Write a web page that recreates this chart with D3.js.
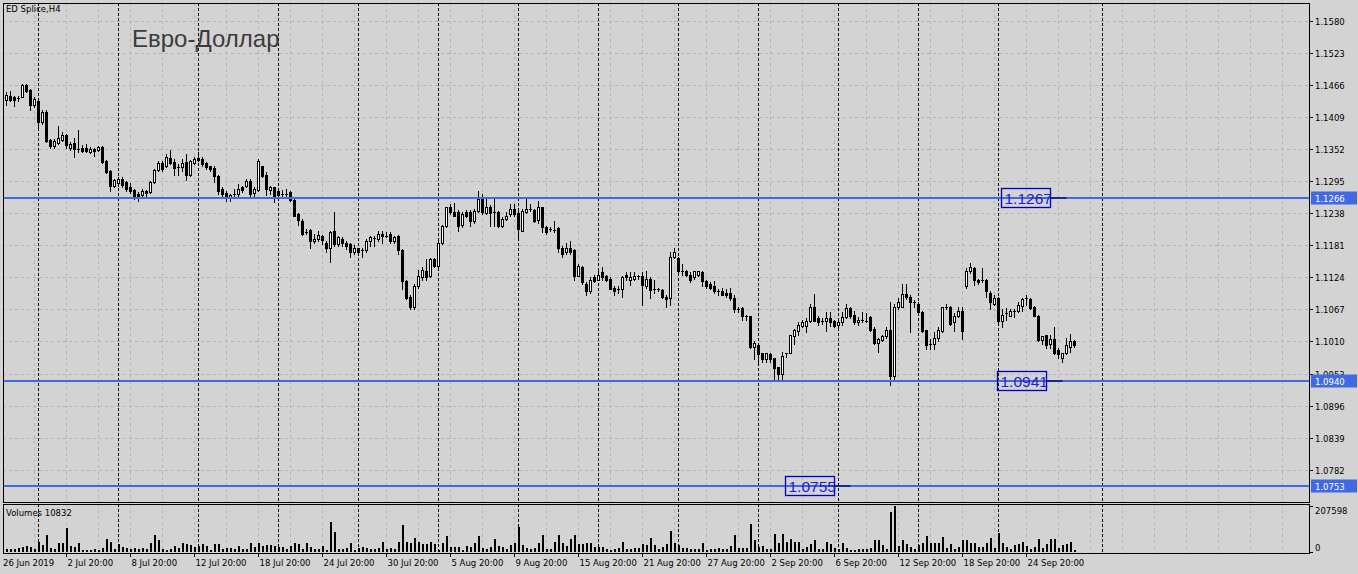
<!DOCTYPE html>
<html><head><meta charset="utf-8">
<script src="https://cdnjs.cloudflare.com/ajax/libs/d3/7.8.5/d3.min.js"></script>
<style>html,body{margin:0;padding:0;background:#d3d3d3;overflow:hidden}svg{display:block}</style>
</head><body><svg id="c" width="1358" height="574"></svg>
<script>
// ---- DATA ----
const symbolTitle = "ED Splice,H4";
const chartTitle = "Евро-Доллар";
const volumeTitle = "Volumes 10832";
// H4 bars: [open, high, low, close]
const ohlc = [
[1.1461,1.1464,1.1439,1.1441],[1.1439,1.1454,1.1430,1.1448],[1.1446,1.1455,1.1438,1.1439],[1.1445,1.1446,1.1429,1.1439],
[1.1443,1.1446,1.1438,1.1441],[1.1445,1.1468,1.1445,1.1466],[1.1466,1.1468,1.1454,1.1455],[1.1457,1.1459,1.1422,1.1430],
[1.1430,1.1445,1.1427,1.1441],[1.1438,1.1441,1.1388,1.1400],[1.1400,1.1422,1.1397,1.1418],[1.1418,1.1422,1.1364,1.1366],
[1.1368,1.1370,1.1354,1.1357],[1.1357,1.1370,1.1354,1.1366],[1.1363,1.1393,1.1361,1.1372],[1.1368,1.1382,1.1366,1.1377],
[1.1377,1.1379,1.1354,1.1359],[1.1354,1.1364,1.1350,1.1361],[1.1363,1.1372,1.1338,1.1352],[1.1352,1.1386,1.1347,1.1351],
[1.1354,1.1359,1.1347,1.1348],[1.1354,1.1361,1.1347,1.1348],[1.1347,1.1356,1.1345,1.1352],[1.1352,1.1354,1.1340,1.1348],
[1.1350,1.1357,1.1348,1.1356],[1.1356,1.1357,1.1327,1.1329],[1.1331,1.1332,1.1309,1.1311],[1.1313,1.1315,1.1277,1.1286],
[1.1286,1.1299,1.1284,1.1297],[1.1291,1.1302,1.1286,1.1299],[1.1299,1.1302,1.1284,1.1289],[1.1293,1.1295,1.1277,1.1281],
[1.1284,1.1291,1.1274,1.1277],[1.1279,1.1281,1.1263,1.1266],[1.1272,1.1275,1.1259,1.1266],[1.1270,1.1281,1.1266,1.1277],
[1.1277,1.1279,1.1268,1.1274],[1.1275,1.1295,1.1274,1.1293],[1.1293,1.1316,1.1291,1.1315],[1.1315,1.1331,1.1313,1.1327],
[1.1327,1.1331,1.1313,1.1316],[1.1322,1.1343,1.1320,1.1338],[1.1336,1.1350,1.1325,1.1327],[1.1329,1.1334,1.1307,1.1318],
[1.1320,1.1325,1.1307,1.1319],[1.1320,1.1334,1.1313,1.1327],[1.1329,1.1343,1.1297,1.1306],[1.1306,1.1332,1.1304,1.1331],
[1.1327,1.1338,1.1325,1.1334],[1.1336,1.1347,1.1331,1.1332],[1.1334,1.1338,1.1322,1.1325],[1.1327,1.1329,1.1316,1.1320],
[1.1322,1.1323,1.1313,1.1316],[1.1318,1.1322,1.1293,1.1304],[1.1304,1.1307,1.1272,1.1277],[1.1281,1.1284,1.1266,1.1272],
[1.1274,1.1277,1.1259,1.1268],[1.1265,1.1272,1.1259,1.1270],[1.1272,1.1281,1.1266,1.1271],[1.1272,1.1290,1.1268,1.1282],
[1.1284,1.1286,1.1275,1.1279],[1.1286,1.1299,1.1284,1.1295],[1.1295,1.1299,1.1268,1.1272],[1.1274,1.1284,1.1268,1.1281],
[1.1279,1.1334,1.1277,1.1331],[1.1322,1.1323,1.1302,1.1304],[1.1306,1.1311,1.1270,1.1281],[1.1279,1.1286,1.1272,1.1284],
[1.1284,1.1285,1.1258,1.1268],[1.1277,1.1281,1.1266,1.1270],[1.1272,1.1279,1.1266,1.1271],[1.1271,1.1281,1.1268,1.1272],
[1.1275,1.1277,1.1259,1.1261],[1.1261,1.1263,1.1233,1.1234],[1.1236,1.1238,1.1218,1.1226],[1.1224,1.1227,1.1199,1.1202],
[1.1204,1.1210,1.1201,1.1203],[1.1208,1.1210,1.1177,1.1188],[1.1188,1.1201,1.1186,1.1193],[1.1192,1.1206,1.1188,1.1199],
[1.1197,1.1199,1.1183,1.1190],[1.1186,1.1188,1.1170,1.1177],[1.1177,1.1206,1.1151,1.1204],[1.1206,1.1240,1.1179,1.1183],
[1.1183,1.1197,1.1179,1.1195],[1.1192,1.1195,1.1179,1.1185],[1.1185,1.1188,1.1174,1.1179],[1.1183,1.1186,1.1160,1.1170],
[1.1170,1.1181,1.1165,1.1177],[1.1176,1.1177,1.1165,1.1170],[1.1172,1.1177,1.1160,1.1171],[1.1172,1.1192,1.1169,1.1188],
[1.1188,1.1197,1.1179,1.1195],[1.1194,1.1197,1.1179,1.1193],[1.1193,1.1206,1.1188,1.1201],[1.1201,1.1206,1.1186,1.1197],
[1.1197,1.1204,1.1195,1.1196],[1.1201,1.1204,1.1186,1.1188],[1.1188,1.1197,1.1186,1.1195],[1.1197,1.1199,1.1165,1.1172],
[1.1172,1.1174,1.1103,1.1117],[1.1117,1.1120,1.1085,1.1088],[1.1090,1.1092,1.1067,1.1071],[1.1071,1.1112,1.1067,1.1108],
[1.1108,1.1138,1.1106,1.1126],[1.1124,1.1142,1.1120,1.1138],[1.1136,1.1156,1.1120,1.1124],[1.1126,1.1158,1.1124,1.1156],
[1.1156,1.1158,1.1142,1.1144],[1.1144,1.1188,1.1142,1.1186],[1.1186,1.1218,1.1183,1.1215],[1.1215,1.1250,1.1213,1.1249],
[1.1250,1.1254,1.1236,1.1240],[1.1240,1.1256,1.1233,1.1234],[1.1240,1.1243,1.1206,1.1215],[1.1218,1.1240,1.1213,1.1236],
[1.1240,1.1243,1.1231,1.1234],[1.1240,1.1243,1.1215,1.1224],[1.1224,1.1245,1.1220,1.1242],[1.1242,1.1277,1.1240,1.1263],
[1.1263,1.1272,1.1236,1.1240],[1.1238,1.1263,1.1236,1.1249],[1.1249,1.1252,1.1215,1.1238],[1.1240,1.1266,1.1215,1.1239],
[1.1240,1.1242,1.1214,1.1216],[1.1215,1.1231,1.1213,1.1227],[1.1227,1.1240,1.1226,1.1234],[1.1236,1.1254,1.1234,1.1245],
[1.1245,1.1254,1.1234,1.1236],[1.1238,1.1242,1.1193,1.1210],[1.1206,1.1245,1.1206,1.1242],[1.1240,1.1266,1.1238,1.1245],
[1.1245,1.1254,1.1242,1.1244],[1.1243,1.1245,1.1222,1.1224],[1.1226,1.1259,1.1220,1.1249],[1.1249,1.1250,1.1204,1.1213],
[1.1213,1.1215,1.1202,1.1204],[1.1210,1.1213,1.1206,1.1209],[1.1208,1.1224,1.1204,1.1207],[1.1211,1.1213,1.1169,1.1176],
[1.1177,1.1179,1.1161,1.1165],[1.1169,1.1186,1.1165,1.1177],[1.1177,1.1188,1.1165,1.1170],[1.1172,1.1174,1.1120,1.1126],
[1.1127,1.1147,1.1126,1.1144],[1.1142,1.1144,1.1113,1.1115],[1.1113,1.1115,1.1093,1.1099],[1.1099,1.1124,1.1097,1.1120],
[1.1124,1.1129,1.1115,1.1117],[1.1120,1.1135,1.1119,1.1129],[1.1133,1.1142,1.1120,1.1124],[1.1126,1.1129,1.1117,1.1119],
[1.1122,1.1124,1.1103,1.1104],[1.1106,1.1108,1.1093,1.1099],[1.1104,1.1108,1.1097,1.1103],[1.1104,1.1126,1.1090,1.1124],
[1.1129,1.1133,1.1120,1.1124],[1.1119,1.1133,1.1110,1.1124],[1.1122,1.1133,1.1120,1.1127],[1.1127,1.1129,1.1122,1.1126],
[1.1127,1.1133,1.1075,1.1110],[1.1108,1.1135,1.1106,1.1122],[1.1122,1.1124,1.1087,1.1101],[1.1104,1.1120,1.1097,1.1101],
[1.1103,1.1106,1.1099,1.1102],[1.1101,1.1103,1.1088,1.1090],[1.1090,1.1092,1.1072,1.1085],[1.1087,1.1169,1.1075,1.1161],
[1.1160,1.1176,1.1158,1.1169],[1.1158,1.1160,1.1129,1.1135],[1.1136,1.1147,1.1129,1.1133],[1.1135,1.1138,1.1127,1.1129],
[1.1129,1.1133,1.1115,1.1119],[1.1124,1.1136,1.1122,1.1135],[1.1129,1.1136,1.1127,1.1135],[1.1133,1.1135,1.1108,1.1117],
[1.1117,1.1120,1.1106,1.1108],[1.1112,1.1115,1.1103,1.1106],[1.1108,1.1117,1.1097,1.1099],[1.1099,1.1104,1.1092,1.1098],
[1.1099,1.1106,1.1092,1.1093],[1.1097,1.1103,1.1090,1.1092],[1.1097,1.1106,1.1083,1.1087],[1.1087,1.1093,1.1062,1.1067],
[1.1067,1.1071,1.1062,1.1066],[1.1069,1.1071,1.1049,1.1055],[1.1055,1.1057,1.1049,1.1054],[1.1055,1.1056,1.0999,1.1001],
[1.1001,1.1010,1.0978,1.1008],[1.1003,1.1005,1.0973,1.0987],[1.0989,1.0990,1.0973,1.0978],[1.0978,1.0990,1.0973,1.0989],
[1.0987,1.0989,1.0974,1.0978],[1.0980,1.0981,1.0944,1.0962],[1.0964,1.0965,1.0944,1.0953],[1.0953,1.0992,1.0944,1.0985],
[1.0989,1.0990,1.0983,1.0988],[1.0990,1.1022,1.0989,1.1021],[1.1019,1.1033,1.1005,1.1030],[1.1028,1.1044,1.1021,1.1039],
[1.1037,1.1049,1.1035,1.1044],[1.1037,1.1051,1.1026,1.1047],[1.1046,1.1077,1.1044,1.1071],[1.1071,1.1095,1.1046,1.1047],
[1.1051,1.1055,1.1039,1.1044],[1.1046,1.1051,1.1041,1.1045],[1.1046,1.1062,1.1028,1.1051],[1.1051,1.1062,1.1037,1.1044],
[1.1046,1.1049,1.1035,1.1037],[1.1039,1.1051,1.1035,1.1044],[1.1044,1.1062,1.1039,1.1053],[1.1053,1.1077,1.1051,1.1069],
[1.1069,1.1071,1.1051,1.1055],[1.1058,1.1064,1.1041,1.1044],[1.1044,1.1053,1.1039,1.1049],[1.1049,1.1062,1.1044,1.1048],
[1.1047,1.1060,1.1044,1.1046],[1.1053,1.1055,1.1028,1.1031],[1.1033,1.1035,1.1005,1.1008],[1.1008,1.1017,1.0992,1.1015],
[1.1012,1.1021,1.1010,1.1019],[1.1019,1.1035,1.1017,1.1031],[1.1031,1.1080,1.0932,1.0948],[1.0948,1.1077,1.0942,1.1071],
[1.1071,1.1088,1.1067,1.1080],[1.1072,1.1113,1.1071,1.1095],[1.1095,1.1112,1.1085,1.1090],[1.1090,1.1092,1.1026,1.1080],
[1.1080,1.1083,1.1071,1.1079],[1.1077,1.1080,1.1058,1.1062],[1.1062,1.1064,1.1026,1.1028],[1.1030,1.1031,1.0996,1.1003],
[1.1006,1.1015,1.0996,1.1005],[1.1005,1.1026,1.0996,1.1017],[1.1017,1.1035,1.1010,1.1030],[1.1028,1.1072,1.1027,1.1071],
[1.1072,1.1077,1.1067,1.1071],[1.1072,1.1073,1.1039,1.1041],[1.1044,1.1060,1.1028,1.1056],[1.1056,1.1071,1.1053,1.1064],
[1.1064,1.1072,1.1014,1.1028],[1.1108,1.1140,1.1106,1.1135],[1.1135,1.1149,1.1131,1.1142],[1.1140,1.1142,1.1110,1.1119],
[1.1120,1.1122,1.1113,1.1115],[1.1117,1.1140,1.1115,1.1120],[1.1120,1.1122,1.1090,1.1099],[1.1097,1.1099,1.1067,1.1080],
[1.1077,1.1092,1.1075,1.1088],[1.1088,1.1090,1.1044,1.1046],[1.1047,1.1067,1.1035,1.1058],[1.1060,1.1069,1.1049,1.1059],
[1.1056,1.1067,1.1055,1.1064],[1.1064,1.1067,1.1053,1.1063],[1.1064,1.1080,1.1062,1.1075],[1.1074,1.1088,1.1064,1.1085],
[1.1087,1.1093,1.1075,1.1086],[1.1085,1.1087,1.1067,1.1069],[1.1072,1.1074,1.1055,1.1056],[1.1056,1.1058,1.1010,1.1012],
[1.1012,1.1019,1.1006,1.1019],[1.1021,1.1022,1.0998,1.1003],[1.1005,1.1022,1.0999,1.1014],[1.1015,1.1035,1.0987,1.0990],
[1.0994,1.0999,1.0981,1.0987],[1.0981,1.0990,1.0973,1.0989],[1.0989,1.1017,1.0987,1.1003],[1.1001,1.1024,1.0992,1.1010],
[1.1010,1.1012,1.1001,1.1003]
];
const volumes = [
12584,15730,12584,12584,18876,23595,28314,23595,15730,44044,31460,75504,18876,15730,39325,39325,110110,28314,23595,39325,
7865,7865,7865,12584,7865,18876,58201,47190,12584,34606,23595,18876,12584,18876,15730,18876,15730,39325,78650,55055,
12584,7865,15730,28314,18876,39325,34606,31460,23595,28314,34606,28314,7865,34606,34606,15730,18876,18876,15730,28314,
12584,15730,39325,23595,39325,28314,31460,31460,28314,23595,23595,12584,28314,42471,34606,15730,39325,23595,15730,15730,
28314,7865,133705,91234,12584,12584,18876,39325,7865,18876,23595,18876,15730,15730,18876,44044,12584,18876,15730,44044,
122694,44044,39325,62920,44044,34606,34606,44044,34606,7865,39325,70785,23595,23595,23595,7865,28314,23595,39325,70785,
18876,15730,23595,59774,28314,23595,15730,31460,39325,113256,31460,18876,15730,18876,39325,75504,15730,12584,47190,75504,
39325,28314,58201,78650,34606,34606,39325,39325,23595,23595,23595,12584,7865,15730,18876,44044,15730,12584,18876,18876,
34606,31460,62920,31460,15730,23595,34606,94380,39325,31460,18876,18876,12584,12584,12584,39325,7865,12584,15730,18876,
12584,15730,28314,78650,18876,18876,18876,125840,55055,23595,28314,12584,15730,81796,39325,81796,44044,59774,44044,44044,
15730,23595,34606,55055,12584,15730,47190,34606,18876,12584,39325,18876,7865,7865,12584,12584,15730,18876,55055,55055,
31460,15730,180895,207598,28314,55055,34606,23595,15730,31460,39325,70785,39325,39325,39325,66066,18876,34606,15730,23595,
55055,55055,39325,39325,23595,23595,39325,62920,18876,86515,39325,23595,15730,31460,34606,47190,28314,15730,23595,59774,
18876,34606,59774,59774,18876,31460,34606,47190,10832
];
const priceTicks = [1.1580,1.1523,1.1466,1.1409,1.1352,1.1295,1.1238,1.1181,1.1124,1.1067,1.1010,1.0953,1.0896,1.0839,1.0782];
const volumeTicks = [207598, 0];
const timeLabels = [
  {bar:0,text:"26 Jun 2019"},{bar:16,text:"2 Jul 20:00"},{bar:32,text:"8 Jul 20:00"},{bar:48,text:"12 Jul 20:00"},
  {bar:64,text:"18 Jul 20:00"},{bar:80,text:"24 Jul 20:00"},{bar:96,text:"30 Jul 20:00"},{bar:112,text:"5 Aug 20:00"},
  {bar:128,text:"9 Aug 20:00"},{bar:144,text:"15 Aug 20:00"},{bar:160,text:"21 Aug 20:00"},{bar:176,text:"27 Aug 20:00"},
  {bar:192,text:"2 Sep 20:00"},{bar:208,text:"6 Sep 20:00"},{bar:224,text:"12 Sep 20:00"},{bar:240,text:"18 Sep 20:00"},
  {bar:256,text:"24 Sep 20:00"}
];
const weekSeparators = [9,29,49,69,89,109,129,149,169,189,209,229,249,275];
const levels = [1.1266, 1.0940, 1.0753];
const levelTags = ["1.1266","1.0940","1.0753"];
const textBoxes = [
  {bar:250, price:1.1266, text:"1.1267"},
  {bar:249, price:1.0940, text:"1.0941"},
  {bar:196, price:1.0753, text:"1.0755"}
];

// ---- LAYOUT ----
const W=1358, H=574;
const L=3, R=1309, mT=3, mB=502, vT=504, vB=553;
const svg = d3.select("#c");
const x = d3.scaleLinear().domain([0,1]).range([2.3,6.3]);
const y = d3.scaleLinear().domain([1.0753,1.1580]).range([486,21]);
const yv = d3.scaleLinear().domain([0,207598]).range([vB-1,vT+2]);
const cx = j => Math.round(x(j))+0.5;
const FONT = "'DejaVu Sans', Tahoma, sans-serif";

svg.append("rect").attr("width",W).attr("height",H).attr("fill","#d3d3d3");
const defs = svg.append("defs");
defs.append("clipPath").attr("id","cm").append("rect").attr("x",L).attr("y",mT).attr("width",R-L).attr("height",mB-mT);
defs.append("clipPath").attr("id","cv").append("rect").attr("x",L).attr("y",vT).attr("width",R-L).attr("height",vB-vT);

const gm = svg.append("g").attr("clip-path","url(#cm)");
const gv = svg.append("g").attr("clip-path","url(#cv)");

// grid
const gridColor = "#b6b6b6";
gm.selectAll("line.hg").data(priceTicks).join("line")
  .attr("x1",L).attr("x2",R).attr("y1",d=>Math.round(y(d))+0.5).attr("y2",d=>Math.round(y(d))+0.5)
  .attr("stroke",gridColor).attr("stroke-dasharray","3,3");
const gridBars = d3.range(8, 330, 8);
[ [gm,mT,mB], [gv,vT,vB] ].forEach(([g,t,b])=>{
  g.selectAll("line.vg").data(gridBars).join("line")
    .attr("x1",d=>cx(d)).attr("x2",d=>cx(d)).attr("y1",t).attr("y2",b)
    .attr("stroke",gridColor).attr("stroke-dasharray","3,3");
  g.selectAll("line.sep").data(weekSeparators).join("line")
    .attr("x1",d=>cx(d)).attr("x2",d=>cx(d)).attr("y1",t).attr("y2",b)
    .attr("stroke","#000").attr("stroke-dasharray","3,2");
});

// candles
const cg = gm.append("g").attr("shape-rendering","crispEdges");
ohlc.forEach((d,j)=>{
  const [o,h,l,c] = d;
  const X = cx(j);
  const yh = Math.round(y(h)), yl = Math.round(y(l));
  const yt = Math.round(y(Math.max(o,c))), yb = Math.round(y(Math.min(o,c)));
  cg.append("line").attr("x1",X).attr("x2",X).attr("y1",yh).attr("y2",yl+1).attr("stroke","#000");
  if (yb - yt < 2) {
    cg.append("rect").attr("x",X-1.5).attr("y",yt).attr("width",3).attr("height",Math.max(1,yb-yt)).attr("fill","#000");
  } else if (c < o) {
    cg.append("rect").attr("x",X-1.5).attr("y",yt).attr("width",3).attr("height",yb-yt+1).attr("fill","#000");
  } else {
    cg.append("rect").attr("x",X-1).attr("y",yt+0.5).attr("width",2).attr("height",yb-yt).attr("fill","#fff").attr("stroke","#000");
  }
});

// volumes
gv.append("g").attr("shape-rendering","crispEdges").selectAll("rect").data(volumes).join("rect")
  .attr("x",(d,j)=>cx(j)-1).attr("width",2)
  .attr("y",d=>Math.round(yv(d))).attr("height",d=>Math.max(1,(vB-1)-Math.round(yv(d))))
  .attr("fill","#000");

// level lines
gm.selectAll("line.lvl").data(levels).join("line")
  .attr("x1",L).attr("x2",R).attr("y1",d=>Math.round(y(d))).attr("y2",d=>Math.round(y(d)))
  .attr("stroke","#4169e1").attr("stroke-width",2);

// text boxes on the levels
textBoxes.forEach(b=>{
  const bx = Math.round(x(b.bar)) - 0.5, by = Math.round(y(b.price));
  gm.append("line").attr("x1",bx+49).attr("x2",bx+65).attr("y1",by).attr("y2",by)
    .attr("stroke","#10106a").attr("stroke-width",1.5);
  gm.append("rect").attr("x",bx).attr("y",by-9.5).attr("width",49).attr("height",19)
    .attr("fill","none").attr("stroke","#0000b8").attr("stroke-width",1.3);
  gm.append("text").attr("x",bx+3).attr("y",by+5.5).text(b.text)
    .attr("font-family","'Liberation Sans', Arial, sans-serif").attr("font-size",15.5).attr("fill","#1a1ae0");
});

// frames
svg.append("rect").attr("x",L+0.5).attr("y",mT+0.5).attr("width",R-L).attr("height",mB-mT)
  .attr("fill","none").attr("stroke","#000");
svg.append("rect").attr("x",L+0.5).attr("y",vT+0.5).attr("width",R-L).attr("height",vB-vT)
  .attr("fill","none").attr("stroke","#000");

// right price axis
const ax = svg.append("g");
priceTicks.forEach(t=>{
  const yy = Math.round(y(t))+0.5;
  ax.append("line").attr("x1",R).attr("x2",R+4).attr("y1",yy).attr("y2",yy).attr("stroke","#000");
  ax.append("text").attr("x",R+6).attr("y",yy+3.5).text(t.toFixed(4))
    .attr("font-family",FONT).attr("font-size",8.5).attr("fill","#000");
});
levels.forEach((p,i)=>{
  const yy = Math.round(y(p));
  ax.append("rect").attr("x",R+2).attr("y",yy-6.5).attr("width",46).attr("height",13).attr("fill","#4169e1");
  ax.append("text").attr("x",R+6).attr("y",yy+3.5).text(levelTags[i])
    .attr("font-family",FONT).attr("font-size",8.5).attr("fill","#fff");
});
// volume axis
volumeTicks.forEach(v=>{
  const yy = Math.round(yv(v))+0.5;
  ax.append("line").attr("x1",R).attr("x2",R+4).attr("y1",yy).attr("y2",yy).attr("stroke","#000");
  ax.append("text").attr("x",R+6).attr("y",v===0? yy-2 : yy+7).text(String(v))
    .attr("font-family",FONT).attr("font-size",8.5).attr("fill","#000");
});

// time axis
timeLabels.forEach(t=>{
  const xx = cx(t.bar);
  if (t.bar>0) ax.append("line").attr("x1",xx).attr("x2",xx).attr("y1",vB).attr("y2",vB+4).attr("stroke","#000");
  ax.append("text").attr("x",t.bar>0? xx+1 : L).attr("y",H-8).text(t.text)
    .attr("font-family",FONT).attr("font-size",8.5).attr("fill","#000");
});

// titles
svg.append("text").attr("x",6).attr("y",12).text(symbolTitle)
  .attr("font-family",FONT).attr("font-size",8.5).attr("fill","#000");
svg.append("text").attr("x",132).attr("y",47).text(chartTitle)
  .attr("font-family","'Liberation Sans', Arial, sans-serif").attr("font-size",24).attr("fill","#3c3c3c");
svg.append("text").attr("x",6).attr("y",vT+12).text(volumeTitle)
  .attr("font-family",FONT).attr("font-size",8.5).attr("fill","#000");
</script>
</body></html>
